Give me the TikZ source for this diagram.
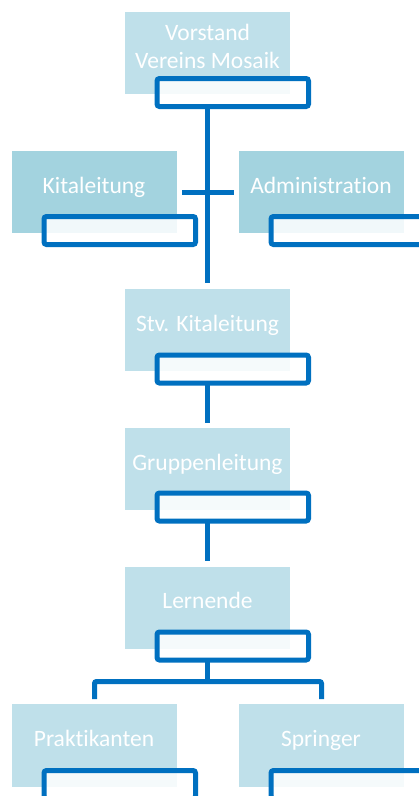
\documentclass[tikz,border=0pt]{standalone}
\usepackage{fontspec}
\setmainfont{Carlito}[Ligatures=NoCommon]
\definecolor{boxlight}{HTML}{BFE0EA}
\definecolor{boxdark}{HTML}{A3D3DF}
\definecolor{lineblue}{HTML}{0070C0}
\definecolor{subfill}{HTML}{F4F9FB}
\begin{document}
\begin{tikzpicture}[x=1pt,y=-1pt,
  mainbox/.style={fill=boxlight, draw=none, minimum width=165pt, minimum height=82pt, anchor=north west, inner sep=0pt, outer sep=0pt},
  darkbox/.style={mainbox, fill=boxdark},
  subbox/.style={draw=lineblue, line width=5pt, fill=white, fill opacity=0.85, draw opacity=1, rounded corners=2.5pt, minimum width=151.5pt, minimum height=28pt, anchor=north west, inner sep=0pt, outer sep=0pt},
  lbl/.style={text=white, font=\fontsize{23.5}{28}\selectfont, align=center, inner sep=0pt},
  conn/.style={draw=lineblue, line width=5pt}]
\useasboundingbox (0,0) rectangle (419,796);
\clip (0,0) rectangle (419,796);

% main boxes and sub-boxes
\node[mainbox] (v) at (125,12) {};
\node[subbox] (vs) at (157,78.5) {};
\node[darkbox] (k) at (12,151) {};
\node[subbox] (ks) at (44,216.5) {};
\node[darkbox] (a) at (239,151) {};
\node[subbox] (as) at (271,216.5) {};
\node[mainbox] (s) at (125,289) {};
\node[subbox] (ss) at (157,355) {};
\node[mainbox] (g) at (125,427.5) {};
\node[subbox] (gs) at (157,493) {};
\node[mainbox] (l) at (125,566.5) {};
\node[subbox] (ls) at (157,632) {};
\node[mainbox, minimum height=83pt] (p) at (12,704) {};
\node[subbox] (ps) at (44,770.5) {};
\node[mainbox, minimum height=83pt] (sp) at (239,704) {};
\node[subbox] (sps) at (271,770.5) {};

% labels
\node[lbl] (vt) at (207.5,46) {Vorstand\\Vereins Mosaik};
\node[lbl, anchor=base] (kt) at (94,193) {Kitaleitung};
\node[lbl, anchor=base] (at) at (321,193) {Administration};
\node[lbl, anchor=base] (st) at (207.5,331.5) {Stv. Kitaleitung};
\node[lbl, anchor=base] (gt) at (207.5,470) {Gruppenleitung};
\node[lbl, anchor=base] (lt) at (207.5,608.5) {Lernende};
\node[lbl, anchor=base] (pt) at (94,746.5) {Praktikanten};
\node[lbl, anchor=base] (spt) at (321,746.5) {Springer};

% connectors
\draw[conn] (v.center |- vs.south) -- ([yshift=6pt]s.north);
\draw[conn] ([xshift=5pt]k.east) -- ([xshift=-5pt]a.west);
\draw[conn] (s.center |- ss.south) -- ([yshift=5pt]g.north);
\draw[conn] (g.center |- gs.south) -- ([yshift=6pt]l.north);
\coordinate (bj) at (207.5,681.5);
\draw[conn] (l.center |- ls.south) -- (bj);
\draw[conn, rounded corners=2pt] ([yshift=5pt]p.north) |- (bj) -| ([yshift=5pt]sp.north);
\end{tikzpicture}
\end{document}
